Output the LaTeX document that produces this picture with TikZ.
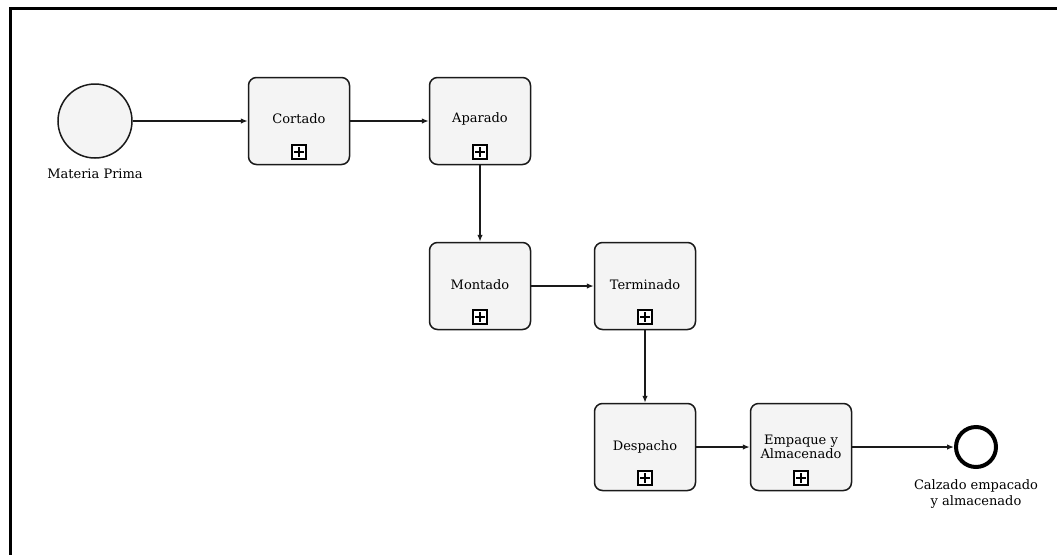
\documentclass[tikz,border=0pt]{standalone}
\usepackage{fontspec}
\setmainfont{DejaVu Serif}
\usetikzlibrary{arrows.meta}
\definecolor{boxfill}{HTML}{F4F4F4}
\definecolor{edge}{HTML}{1A1A1A}
\tikzset{
  task/.style={draw=edge, line width=1.5pt, rounded corners=8pt, fill=boxfill,
    minimum width=101pt, minimum height=87pt, inner sep=0pt},
  flow/.style={draw=edge, line width=1.3pt, -{Latex[length=7pt,width=5.5pt]}},
  lbl/.style={font=\fontsize{13}{15.5}\selectfont, align=center, text=black},
  plusbox/.style={draw=black, line width=1.2pt, minimum size=14pt, inner sep=0pt, fill=white},
}
\newcommand{\plusmark}[2]{%
  \node[plusbox] (#1) at #2 {};
  \draw[line width=1.2pt] ([xshift=-5pt]#1.center) -- ([xshift=5pt]#1.center);
  \draw[line width=1.2pt] ([yshift=-5pt]#1.center) -- ([yshift=5pt]#1.center);
}
\begin{document}
\begin{tikzpicture}[x=1pt,y=-1pt]
\useasboundingbox (0,0) rectangle (1057,555);
\fill[white] (0,0) rectangle (1057,555);
% frame
\draw[line width=3.5pt] (1057,8.5) -- (10.5,8.5) -- (10.5,555);
% start event
\node[circle, draw=edge, line width=1.5pt, fill=boxfill, minimum size=74pt, inner sep=0pt] (start) at (95,121) {};
\node[lbl] (startlbl) at (95,174) {Materia Prima};
% tasks
\node[task] (cortado) at (299,121) {};
\node[lbl] at (299,119) {Cortado};
\plusmark{pc}{(299,152)}
\node[task] (aparado) at (480,121) {};
\node[lbl] at (480,119) {Aparado};
\plusmark{pa}{(480,152)}
\node[task] (montado) at (480,286) {};
\node[lbl] at (480,285) {Montado};
\plusmark{pm}{(480,317)}
\node[task] (terminado) at (645,286) {};
\node[lbl] at (645,285) {Terminado};
\plusmark{pt}{(645,317)}
\node[task] (despacho) at (645,447) {};
\node[lbl] at (645,447) {Despacho};
\plusmark{pd}{(645,478)}
\node[task] (empaque) at (801,447) {};
\node[lbl] at (801,447) {Empaque y\\[-2pt]Almacenado};
\plusmark{pe}{(801,478)}
% end event
\node[circle, draw=black, line width=4pt, fill=white, minimum size=40pt, inner sep=0pt] (end) at (976,447) {};
\node[lbl] (endlbl) at (976,494) {Calzado empacado\\[1pt]y almacenado};
% flows
\draw[flow] (start) -- (cortado);
\draw[flow] (cortado) -- (aparado);
\draw[flow] (aparado) -- (montado);
\draw[flow] (montado) -- (terminado);
\draw[flow] (terminado) -- (despacho);
\draw[flow] (despacho) -- (empaque);
\draw[flow] (empaque) -- (end);
\end{tikzpicture}
\end{document}
